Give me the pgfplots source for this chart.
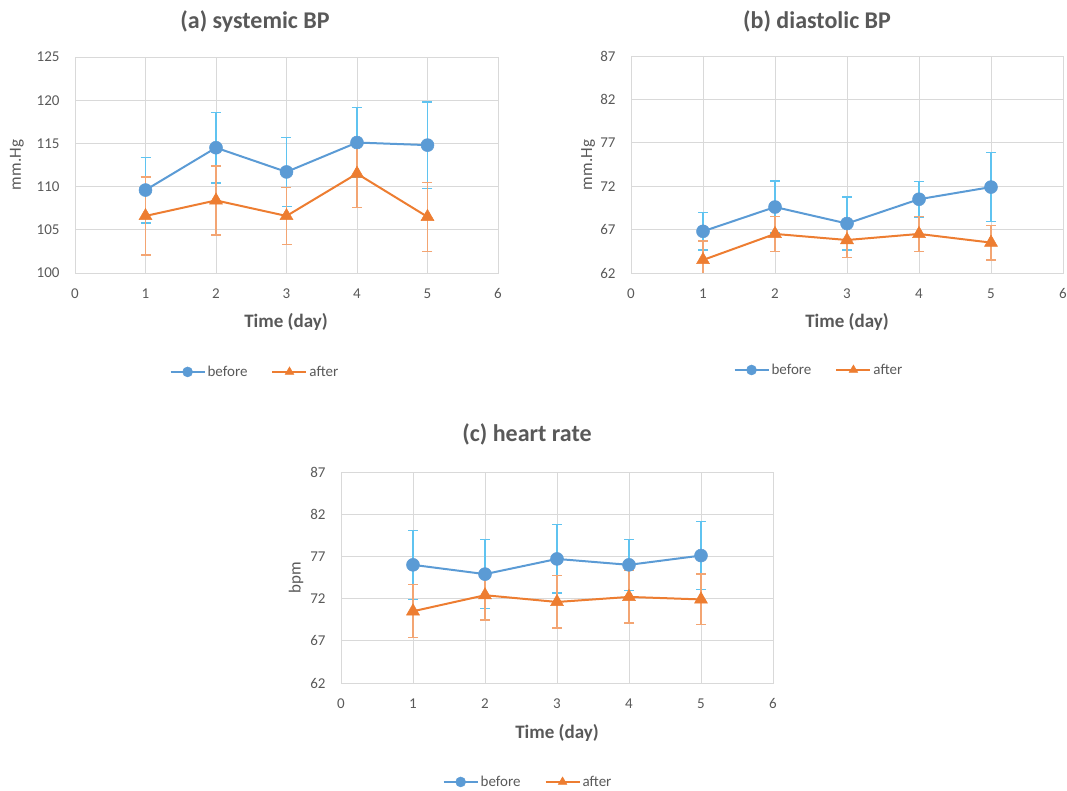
\documentclass[border=0pt]{standalone}
\usepackage{pgfplots}
\usepackage{pgfplotstable}
\pgfplotsset{compat=1.18}
\usepackage{fontspec}
\setmainfont{Carlito}
\definecolor{bl}{HTML}{5B9BD5}
\definecolor{blerr}{RGB}{95,195,240}
\definecolor{or}{HTML}{ED7D31}
\definecolor{orerr}{RGB}{243,165,115}
\definecolor{gridc}{HTML}{D9D9D9}
\definecolor{txt}{HTML}{595959}

\pgfplotstableread{
x before eb after ea
1 109.6 3.8 106.6 4.5
2 114.5 4.1 108.4 4.0
3 111.7 4.0 106.6 3.3
4 115.1 4.05 111.5 3.95
5 114.8 5.0 106.5 4.0
}\dataA
\pgfplotstableread{
x before eb after ea
1 66.8 2.15 63.5 2.2
2 69.6 3.0 66.5 2.0
3 67.7 3.05 65.8 2.0
4 70.5 2.05 66.5 2.0
5 71.9 3.95 65.5 2.0
}\dataB
\pgfplotstableread{
x before eb after ea
1 76.0 4.1 70.5 3.15
2 74.9 4.1 72.4 2.95
3 76.7 4.05 71.6 3.1
4 76.0 3.0 72.2 3.1
5 77.1 4.05 71.9 3.0
}\dataC

\pgfplotsset{
  panel/.style={
    scale only axis,
    xmin=0, xmax=6, xtick={0,1,...,6},
    grid=major,
    major grid style={draw=gridc, line width=0.9pt},
    axis line style={draw=gridc, line width=0.9pt},
    tick style={draw=none},
    /pgf/number format/assume math mode=true,
    ticklabel style={font=\fontsize{15}{18}\selectfont, text=txt},
    xticklabel style={yshift=-12pt},
    yticklabel style={xshift=-12pt},
    legend columns=2,
    legend cell align=left,
    legend style={draw=none, fill=none, font=\fontsize{15}{18}\selectfont, text=txt,
      /tikz/every even column/.append style={column sep=22pt}},
    legend image code/.code={\draw[mark repeat=2, mark phase=2, mark size=5pt]
      plot coordinates {(0pt,0pt) (17pt,0pt) (34pt,0pt)};},
  },
  beforeplot/.style={color=bl, line width=2pt, mark=*, mark size=6.5pt,
    mark options={fill=bl, draw=bl, line width=0.5pt},
    error bars/.cd, y dir=both, y explicit,
    error bar style={draw=blerr, line width=1.3pt},
    error mark=-, error mark options={rotate=90, draw=blerr, line width=1.3pt, mark size=5pt}},
  afterplot/.style={color=or, line width=2pt, mark=triangle*, mark size=7.5pt,
    mark options={fill=or, draw=or, line width=0.5pt},
    error bars/.cd, y dir=both, y explicit,
    error bar style={draw=orerr, line width=1.3pt},
    error mark=-, error mark options={rotate=90, draw=orerr, line width=1.3pt, mark size=5pt}},
}

\begin{document}
\begin{tikzpicture}[x=1pt, y=1pt]
\path[use as bounding box] (0,0) rectangle (1067,790);

% ---- (a)
\begin{axis}[panel, at={(75pt,517pt)}, anchor=south west,
  width=423pt, height=216pt,
  ymin=100, ymax=125, ytick={100,105,...,125},
  legend style={at={(0.4255,-0.458)}, anchor=center}]
\addplot[beforeplot] table[x=x, y=before, y error=eb] {\dataA};
\addlegendentry{before}
\addplot[afterplot] table[x=x, y=after, y error=ea] {\dataA};
\addlegendentry{after}
\end{axis}

% ---- (b)
\begin{axis}[panel, at={(631pt,517pt)}, anchor=south west,
  width=432pt, height=217pt,
  ymin=62, ymax=87, ytick={62,67,...,87},
  legend style={at={(0.435,-0.447)}, anchor=center}]
\addplot[beforeplot] table[x=x, y=before, y error=eb] {\dataB};
\addlegendentry{before}
\addplot[afterplot] table[x=x, y=after, y error=ea] {\dataB};
\addlegendentry{after}
\end{axis}

% ---- (c)
\begin{axis}[panel, at={(341pt,107pt)}, anchor=south west,
  width=432pt, height=211pt,
  ymin=62, ymax=87, ytick={62,67,...,87},
  legend style={at={(0.433,-0.469)}, anchor=center}]
\addplot[beforeplot] table[x=x, y=before, y error=eb] {\dataC};
\addlegendentry{before}
\addplot[afterplot] table[x=x, y=after, y error=ea] {\dataC};
\addlegendentry{after}
\end{axis}

% titles
\node[font=\fontsize{24}{28}\selectfont\bfseries, text=txt] at (255,769) {(a) systemic BP};
\node[font=\fontsize{24}{28}\selectfont\bfseries, text=txt] at (817,769) {(b) diastolic BP};
\node[font=\fontsize{24}{28}\selectfont\bfseries, text=txt] at (527,356) {(c) heart rate};
% x labels
\node[font=\fontsize{19}{22}\selectfont\bfseries, text=txt] at (286,468) {Time (day)};
\node[font=\fontsize{19}{22}\selectfont\bfseries, text=txt] at (847,468) {Time (day)};
\node[font=\fontsize{19}{22}\selectfont\bfseries, text=txt] at (557,57) {Time (day)};
% y labels
\node[rotate=90, font=\fontsize{17}{20}\selectfont, text=txt] at (17,625) {mm.Hg};
\node[rotate=90, font=\fontsize{17}{20}\selectfont, text=txt] at (588,625) {mm.Hg};
\node[rotate=90, font=\fontsize{17}{20}\selectfont, text=txt] at (296,212) {bpm};
\end{tikzpicture}
\end{document}
